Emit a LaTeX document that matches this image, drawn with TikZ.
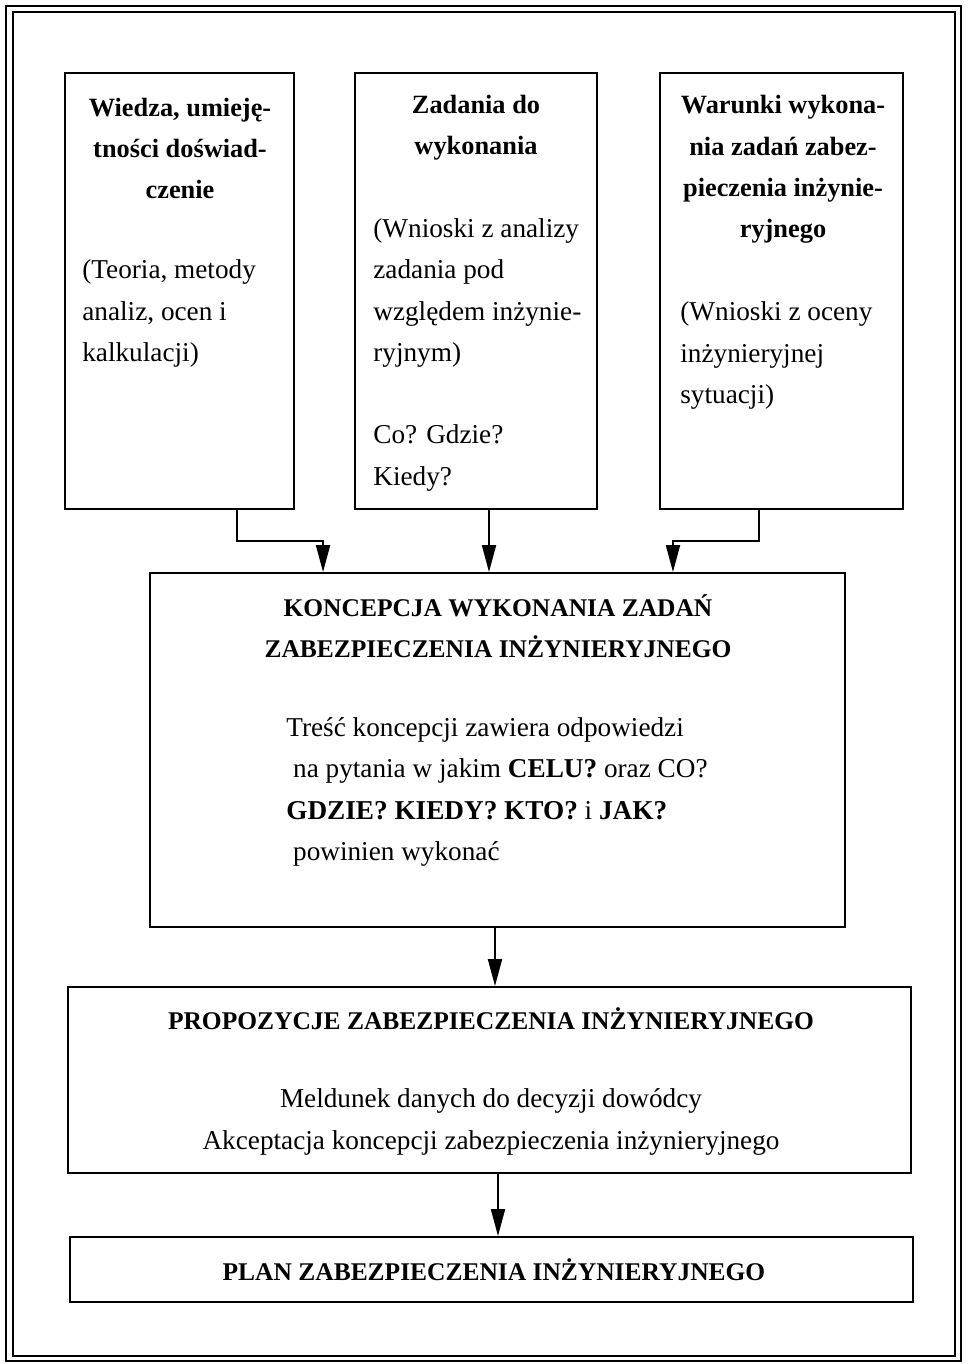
\documentclass[tikz,border=0pt]{standalone}
\usepackage{fontspec}
\setmainfont{Liberation Serif}
\usetikzlibrary{arrows.meta}

\begin{document}
\begin{tikzpicture}[x=0.02cm, y=-0.02cm,
    box/.style={draw, line width=1.1pt, inner sep=0pt},
    arr/.style={-{Triangle[length=5.4mm, width=2.8mm]}, line width=1.1pt},
    head/.style={font=\fontsize{15}{23.5}\selectfont\bfseries, align=center, inner sep=0pt},
    caps/.style={font=\fontsize{14.5}{23.5}\selectfont\bfseries, align=center, inner sep=0pt},
    txt/.style={font=\fontsize{15.5}{23.5}\selectfont, align=left, inner sep=0pt, anchor=west}]

    \useasboundingbox (0,0) rectangle (967,1364);

    % Cornice doppia
    \draw[line width=1.4pt] (6,6) rectangle (961,1361);
    \draw[line width=0.9pt] (13,12) rectangle (955,1356);

    % Riquadri superiori
    \node[box, minimum width=4.58cm, minimum height=8.72cm] (wiedza) at (179.5,291) {};
    \node[box, minimum width=4.84cm, minimum height=8.72cm] (zadania) at (476,291) {};
    \node[box, minimum width=4.86cm, minimum height=8.72cm] (warunki) at (781.5,291) {};

    % Testi dei riquadri superiori
    \node[head] (wiedzaH) at (180,148.5) {Wiedza, umieję-\\tności doświad-\\czenie};
    \node[txt] (wiedzaT) at (82,313.5) {(Teoria, metody\\analiz, ocen i\\kalkulacji)};

    \node[head] (zadaniaH) at (476,128) {Zadania do\\wykonania};
    \node[txt] (zadaniaT) at (373,293) {(Wnioski z analizy\\zadania pod\\względem inżynie-\\ryjnym)};
    \node[txt] (zadaniaQ) at (373,458) {Co? Gdzie?\\Kiedy?};

    \node[head] (warunkiH) at (783,169.5) {Warunki wykona-\\nia zadań zabez-\\pieczenia inżynie-\\ryjnego};
    \node[txt] (warunkiT) at (680,355.5) {(Wnioski z oceny\\inżynieryjnej\\sytuacji)};

    % Koncepcja
    \node[box, minimum width=13.9cm, minimum height=7.08cm] (koncepcja) at (497.5,750) {};
    \node[caps] (koncepcjaH) at (498,626.5) {KONCEPCJA WYKONANIA ZADAŃ\\ZABEZPIECZENIA INŻYNIERYJNEGO};
    \node[txt] (koncepcjaT) at (286,792) {Treść koncepcji zawiera odpowiedzi\\
        \ na pytania w jakim \textbf{CELU?} oraz CO?\\
        \textbf{GDZIE? KIEDY? KTO?} i \textbf{JAK?}\\
        \ powinien wykonać};

    % Propozycje e piano
    \node[box, minimum width=16.86cm, minimum height=3.72cm] (propozycje) at (489.5,1080) {};
    \node[caps] (propozycjeH) at (491,1019) {PROPOZYCJE ZABEZPIECZENIA INŻYNIERYJNEGO};
    \node[txt, anchor=center, align=center] (propozycjeT) at (491,1122) {Meldunek danych do decyzji dowódcy\\Akceptacja koncepcji zabezpieczenia inżynieryjnego};

    \node[box, minimum width=16.86cm, minimum height=1.3cm] (plan) at (491.5,1269.5) {};
    \node[caps] (planH) at (494,1270) {PLAN ZABEZPIECZENIA INŻYNIERYJNEGO};

    % Frecce
    \draw[arr] ([xshift=1.15cm]wiedza.south) -- ++(0,31) -| ([xshift=-3.49cm]koncepcja.north);
    \draw[arr] ([xshift=0.26cm]zadania.south) -- ([xshift=-0.17cm]koncepcja.north);
    \draw[arr] ([xshift=-0.45cm]warunki.south) -- ++(0,31) -| ([xshift=3.51cm]koncepcja.north);
    \draw[arr] ([xshift=-0.05cm]koncepcja.south) -- ([xshift=0.11cm]propozycje.north);
    \draw[arr] ([xshift=0.17cm]propozycje.south) -- ([xshift=0.13cm]plan.north);

\end{tikzpicture}
\end{document}
